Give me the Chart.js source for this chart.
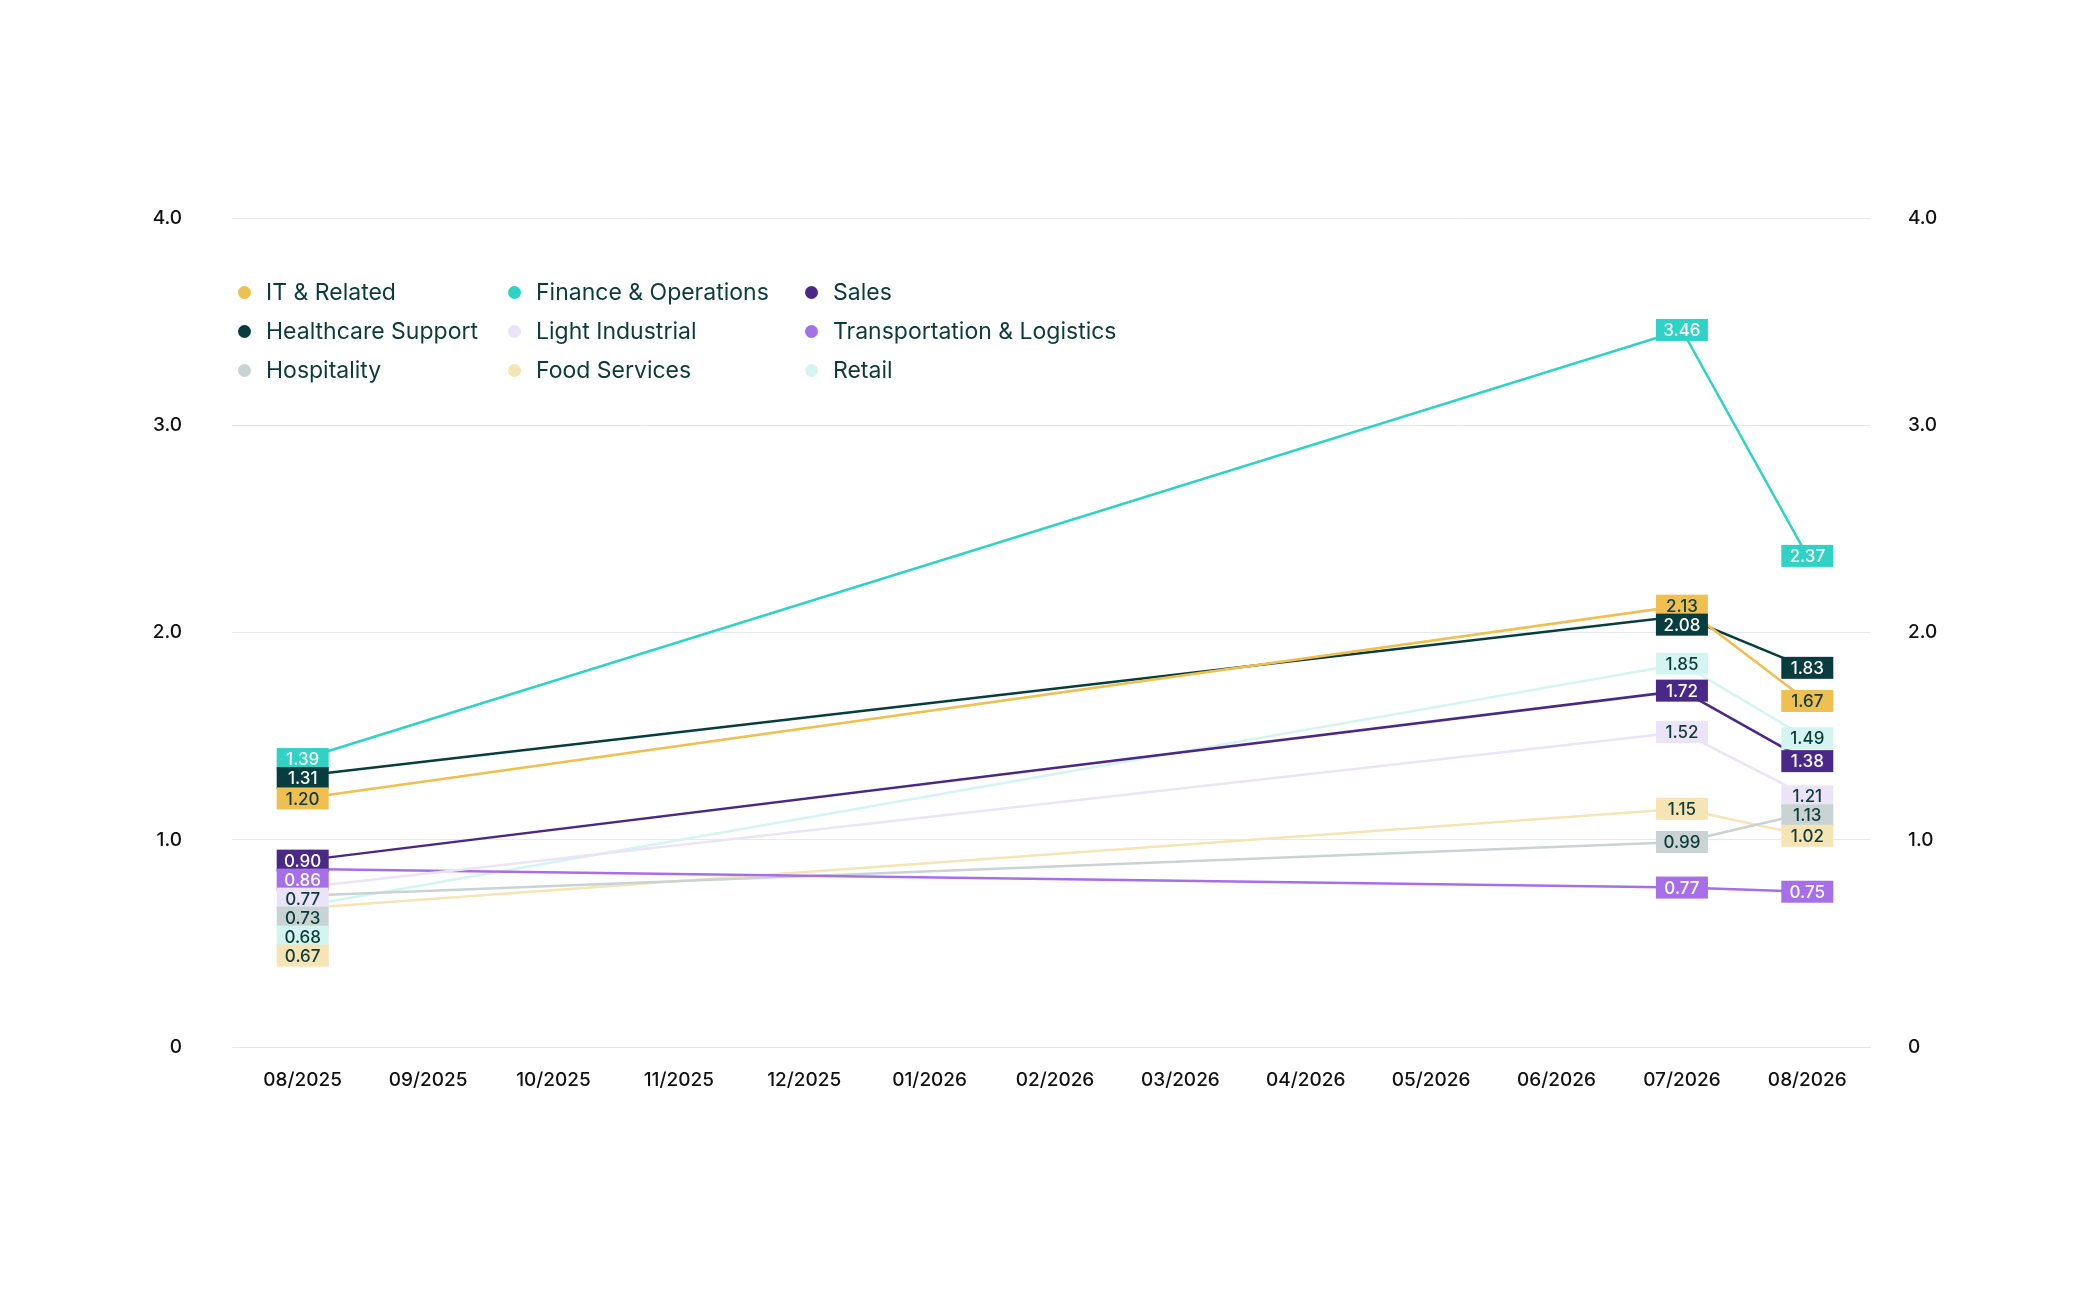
<!DOCTYPE html>
<html>
<head>
<meta charset="utf-8">
<script src="https://cdn.jsdelivr.net/npm/chart.js@4"></script>
<style>
  html, body { margin: 0; padding: 0; background: #fff; }
  #wrap { position: relative; width: 2077px; height: 1296px; }
  #legend { position: absolute; left: 238px; top: 278px; font-family: Inter, sans-serif; font-size: 23px; color: #0d3b3b;
            display: grid; grid-template-columns: 270px 297px 320px; row-gap: 11px; }
  #legend div { display: flex; align-items: center; white-space: nowrap; }
  #legend span { width: 13px; height: 13px; border-radius: 50%; margin-right: 15px; display: inline-block; }
</style>
</head>
<body>
<div id="wrap">
  <canvas id="chart" width="2077" height="1296"></canvas>
  <div id="legend"></div>
</div>
<script>
// Months on the x axis
const months = ['08/2025', '09/2025', '10/2025', '11/2025', '12/2025', '01/2026', '02/2026',
                '03/2026', '04/2026', '05/2026', '06/2026', '07/2026', '08/2026'];
const yTicks = [0, 1, 2, 3, 4];

// Values only exist for 08/2025, 07/2026, 08/2026
const itRelated      = [1.20, null, null, null, null, null, null, null, null, null, null, 2.13, 1.67];
const financeOps     = [1.39, null, null, null, null, null, null, null, null, null, null, 3.46, 2.37];
const sales          = [0.90, null, null, null, null, null, null, null, null, null, null, 1.72, 1.38];
const healthcare     = [1.31, null, null, null, null, null, null, null, null, null, null, 2.08, 1.83];
const lightIndustrial= [0.77, null, null, null, null, null, null, null, null, null, null, 1.52, 1.21];
const transportation = [0.86, null, null, null, null, null, null, null, null, null, null, 0.77, 0.75];
const hospitality    = [0.73, null, null, null, null, null, null, null, null, null, null, 0.99, 1.13];
const foodServices   = [0.67, null, null, null, null, null, null, null, null, null, null, 1.15, 1.02];
const retail         = [0.68, null, null, null, null, null, null, null, null, null, null, 1.85, 1.49];

const series = [
    { label: 'IT & Related', data: itRelated, color: '#efbf4f', text: '#0d3b3b' },
    { label: 'Finance & Operations', data: financeOps, color: '#2fd3c5', text: '#ffffff' },
    { label: 'Sales', data: sales, color: '#4a2888', text: '#ffffff' },
    { label: 'Healthcare Support', data: healthcare, color: '#083d40', text: '#ffffff' },
    { label: 'Light Industrial', data: lightIndustrial, color: '#ebe3f8', text: '#0d3b3b' },
    { label: 'Transportation & Logistics', data: transportation, color: '#a66ee9', text: '#ffffff' },
    { label: 'Hospitality', data: hospitality, color: '#c9d3d3', text: '#0d3b3b' },
    { label: 'Food Services', data: foodServices, color: '#f6e4b4', text: '#0d3b3b' },
    { label: 'Retail', data: retail, color: '#d3f4f0', text: '#0d3b3b' }
];

// HTML legend, 3 columns
const legend = document.getElementById('legend');
series.forEach(s => {
    const d = document.createElement('div');
    d.innerHTML = `<span style="background:${s.color}"></span>${s.label}`;
    legend.appendChild(d);
});

// Value boxes, pushed apart so they don't overlap
const boxLabels = {
    id: 'boxLabels',
    afterDatasetsDraw(chart) {
        const ctx = chart.ctx;
        const h = 22, w = 52;
        ctx.save();
        ctx.font = '500 17px Inter, sans-serif';
        ctx.textAlign = 'center';
        ctx.textBaseline = 'middle';
        for (let i = 0; i < months.length; i++) {
            const items = [];
            chart.data.datasets.forEach((ds, di) => {
                const v = ds.data[i];
                if (v == null) return;
                const pt = chart.getDatasetMeta(di).data[i];
                items.push({ x: pt.x, y: pt.y, v, s: series[di] });
            });
            if (!items.length) continue;
            items.sort((a, b) => a.y - b.y);
            for (let k = 1; k < items.length; k++) {
                if (items[k].y - items[k - 1].y < h - 3) items[k].y = items[k - 1].y + h - 3;
            }
            items.forEach(it => {
                ctx.fillStyle = it.s.color;
                ctx.fillRect(it.x - w / 2, it.y - h / 2, w, h);
                ctx.fillStyle = it.s.text;
                ctx.fillText(it.v.toFixed(2), it.x, it.y + 1);
            });
        }
        ctx.restore();
    }
};

const tickFont = { family: 'Inter, sans-serif', size: 19, weight: '500' };
const yTickCb = v => (v === 0 ? '0' : v.toFixed(1));

new Chart(document.getElementById('chart'), {
    type: 'line',
    data: {
        labels: months,
        datasets: series.map(s => ({
            label: s.label,
            data: s.data,
            borderColor: s.color,
            backgroundColor: s.color,
            borderWidth: 2.5,
            pointRadius: 0,
            spanGaps: true,
            tension: 0
        }))
    },
    options: {
        responsive: false,
        animation: false,
        layout: { padding: { left: 150, right: 120, top: 218, bottom: 190 } },
        plugins: { legend: { display: false }, tooltip: { enabled: false } },
        scales: {
            x: {
                offset: true,
                grid: { display: false },
                border: { color: '#e3e6e6' },
                ticks: { color: '#111', font: tickFont, padding: 14, maxRotation: 0, autoSkip: false }
            },
            y: {
                min: yTicks[0], max: yTicks[yTicks.length - 1],
                afterBuildTicks: ax => { ax.ticks = yTicks.map(v => ({ value: v })); },
                afterFit: ax => { ax.width = 90; },
                grid: { color: '#e6e9e9' },
                border: { display: false },
                ticks: { color: '#111', font: tickFont, callback: yTickCb, padding: 50 }
            },
            y2: {
                position: 'right',
                min: yTicks[0], max: yTicks[yTicks.length - 1],
                afterBuildTicks: ax => { ax.ticks = yTicks.map(v => ({ value: v })); },
                afterFit: ax => { ax.width = 87; },
                grid: { display: false },
                border: { display: false },
                ticks: { color: '#111', font: tickFont, callback: yTickCb, padding: 30 }
            }
        }
    },
    plugins: [boxLabels]
});
</script>
</body>
</html>
